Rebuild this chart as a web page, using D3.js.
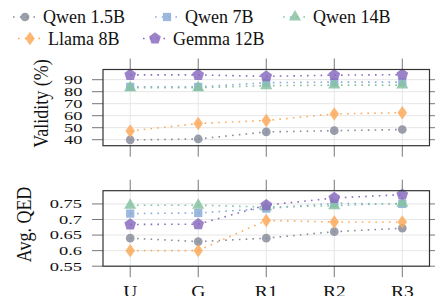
<!DOCTYPE html>
<html>
<head>
<meta charset="utf-8">
<script src="https://cdn.jsdelivr.net/npm/d3@7"></script>
<style>
  body { margin: 0; background: #fff; }
  svg { display: block; }
</style>
</head>
<body>
<svg id="chart" width="435" height="296"></svg>
<script>
// categories along x
var categories = ["U", "G", "R1", "R2", "R3"];
var seriesNames = ["Qwen 1.5B", "Qwen 7B", "Qwen 14B", "Llama 8B", "Gemma 12B"];

// validity (%)
var validQwen15 = [39.8, 40.6, 46.5, 47.5, 48.5];
var validQwen7 = [84.0, 84.0, 87.5, 88.0, 88.0];
var validQwen14 = [83.3, 83.3, 85.0, 85.5, 85.5];
var validLlama8 = [47.3, 53.5, 56.0, 61.5, 62.5];
var validGemma12 = [94.0, 94.0, 92.8, 93.8, 94.2];

// avg. QED
var qedQwen15 = [0.640, 0.629, 0.640, 0.661, 0.672];
var qedQwen7 = [0.719, 0.721, 0.735, 0.752, 0.750];
var qedQwen14 = [0.746, 0.746, 0.740, 0.744, 0.752];
var qedLlama8 = [0.600, 0.600, 0.697, 0.692, 0.692];
var qedGemma12 = [0.684, 0.685, 0.746, 0.769, 0.780];

var validTicks = [40, 50, 60, 70, 80, 90];
var qedTicks = [0.55, 0.6, 0.65, 0.7, 0.75];

var colors = ["#8a8e9c", "#89acd8", "#86c2a1", "#fcaa5c", "#8a6cc0"];
var serif = "'Liberation Serif', 'Times New Roman', Times, 'DejaVu Serif', serif";

// pentagon + tall diamond, d3 has neither
var symPentagon = {
  draw: function(ctx, size) {
    var r = Math.sqrt(size / 2.378);
    for (var i = 0; i < 5; i++) {
      var a = -Math.PI / 2 + i * 2 * Math.PI / 5;
      if (i == 0) ctx.moveTo(r * Math.cos(a), r * Math.sin(a));
      else ctx.lineTo(r * Math.cos(a), r * Math.sin(a));
    }
    ctx.closePath();
  }
};
var symDiamondTall = {
  draw: function(ctx, size) {
    var w = Math.sqrt(size / 2.8), h = w * 1.4;
    ctx.moveTo(0, -h); ctx.lineTo(w, 0); ctx.lineTo(0, h); ctx.lineTo(-w, 0); ctx.closePath();
  }
};
var symbols = [d3.symbolCircle, d3.symbolSquare, d3.symbolTriangle, symDiamondTall, symPentagon];
var symSizes = [60, 68, 64, 64, 90];

var svg = d3.select("#chart");

var x = d3.scalePoint().domain(categories).range([103, 429.5]).padding(0.4);

function panel(cfg) {
  var y = d3.scaleLinear().domain(cfg.domain).range([cfg.bottom, cfg.top]);
  var g = svg.append("g");
  var left = 103, right = 429.5;

  // grid
  g.selectAll(".hgrid").data(cfg.ticks).enter().append("line")
    .attr("x1", left).attr("x2", right)
    .attr("y1", function(d) { return y(d); }).attr("y2", function(d) { return y(d); })
    .attr("stroke", "#e6e6e6").attr("stroke-width", 1);
  g.selectAll(".vgrid").data(categories).enter().append("line")
    .attr("y1", cfg.top).attr("y2", cfg.bottom)
    .attr("x1", function(d) { return x(d); }).attr("x2", function(d) { return x(d); })
    .attr("stroke", "#e6e6e6").attr("stroke-width", 1);

  // outside ticks on all 4 sides
  var tl = 11;
  g.selectAll(".lt").data(cfg.ticks).enter().append("line")
    .attr("x1", left - tl).attr("x2", left)
    .attr("y1", function(d) { return y(d); }).attr("y2", function(d) { return y(d); })
    .attr("stroke", "#777");
  g.selectAll(".rt").data(cfg.ticks).enter().append("line")
    .attr("x1", right).attr("x2", right + tl)
    .attr("y1", function(d) { return y(d); }).attr("y2", function(d) { return y(d); })
    .attr("stroke", "#777");
  g.selectAll(".tt").data(categories).enter().append("line")
    .attr("y1", cfg.top - tl).attr("y2", cfg.top)
    .attr("x1", function(d) { return x(d); }).attr("x2", function(d) { return x(d); })
    .attr("stroke", "#777");
  g.selectAll(".bt").data(categories).enter().append("line")
    .attr("y1", cfg.bottom).attr("y2", cfg.bottom + tl)
    .attr("x1", function(d) { return x(d); }).attr("x2", function(d) { return x(d); })
    .attr("stroke", "#777");

  // tick labels (the source figure is stretched sideways)
  g.selectAll(".tl").data(cfg.ticks).enter().append("text")
    .attr("transform", function(d) { return "translate(" + cfg.labelRight + "," + (y(d) + cfg.fs * 0.34) + ") scale(" + cfg.sx + ",1)"; })
    .attr("text-anchor", "end")
    .attr("font-family", serif)
    .attr("fill", "#111")
    .style("font-size", cfg.fs + "px")
    .text(cfg.fmt);

  // y title
  g.append("text")
    .attr("transform", "translate(" + cfg.titleX + "," + ((cfg.top + cfg.bottom) / 2 - 4) + ") scale(1.2,1) rotate(-90)")
    .attr("text-anchor", "middle")
    .attr("font-family", serif)
    .attr("fill", "#111")
    .style("font-size", "18px")
    .text(cfg.title);

  // series
  var line = d3.line().x(function(d, i) { return x(categories[i]); }).y(function(d) { return y(d); });
  cfg.series.forEach(function(vals, s) {
    g.append("path").datum(vals)
      .attr("d", line)
      .attr("fill", "none")
      .attr("stroke", colors[s])
      .attr("stroke-width", 1.6)
      .attr("stroke-dasharray", "1.6,5.2");
  });
  cfg.series.forEach(function(vals, s) {
    g.selectAll(".m" + s).data(vals).enter().append("path")
      .attr("transform", function(d, i) { return "translate(" + x(categories[i]) + "," + y(d) + ")"; })
      .attr("d", d3.symbol().type(symbols[s]).size(symSizes[s]))
      .attr("fill", colors[s])
      .attr("fill-opacity", 0.85);
  });

  // frame
  g.append("rect")
    .attr("x", left).attr("y", cfg.top)
    .attr("width", right - left).attr("height", cfg.bottom - cfg.top)
    .attr("fill", "none").attr("stroke", "#333").attr("stroke-width", 1.2);
  return y;
}

panel({
  top: 69.5, bottom: 145.7, domain: [35, 98.5],
  ticks: validTicks, fmt: function(d) { return d; },
  fs: 11.5, sx: 1.6, labelRight: 82.5,
  title: "Validity (%)", titleX: 48,
  series: [validQwen15, validQwen7, validQwen14, validLlama8, validGemma12]
});

panel({
  top: 190.7, bottom: 266.2, domain: [0.55, 0.7925],
  ticks: qedTicks, fmt: function(d) { return d; },
  fs: 13, sx: 1.42, labelRight: 82,
  title: "Avg. QED", titleX: 31,
  series: [qedQwen15, qedQwen7, qedQwen14, qedLlama8, qedGemma12]
});

// x labels for bottom panel (cut by the bottom edge, as in the source)
svg.selectAll(".xl").data(categories).enter().append("text")
  .attr("transform", function(d) { return "translate(" + x(d) + ",297) scale(1.15,1)"; })
  .attr("text-anchor", "middle")
  .attr("font-family", serif)
  .attr("fill", "#111")
  .style("font-size", "17px")
  .text(function(d) { return d; });

// legend
var legendPos = [[43, 23], [185, 23], [313, 23], [48, 44.5], [173, 44.5]];
var leg = svg.append("g");
seriesNames.forEach(function(name, s) {
  var tx = legendPos[s][0], ty = legendPos[s][1];
  var mx = tx - 18, my = ty - 6;
  leg.append("line")
    .attr("x1", mx - 12).attr("x2", mx + 12).attr("y1", my).attr("y2", my)
    .attr("stroke", colors[s]).attr("stroke-width", 1.6).attr("stroke-dasharray", "1.6,5.2");
  leg.append("path")
    .attr("transform", "translate(" + mx + "," + my + ")")
    .attr("d", d3.symbol().type(symbols[s]).size(symSizes[s]))
    .attr("fill", colors[s]).attr("fill-opacity", 0.85);
  leg.append("text")
    .attr("x", tx).attr("y", ty)
    .attr("font-family", serif)
    .attr("fill", "#111")
    .style("font-size", "18px")
    .text(name);
});
</script>
</body>
</html>
